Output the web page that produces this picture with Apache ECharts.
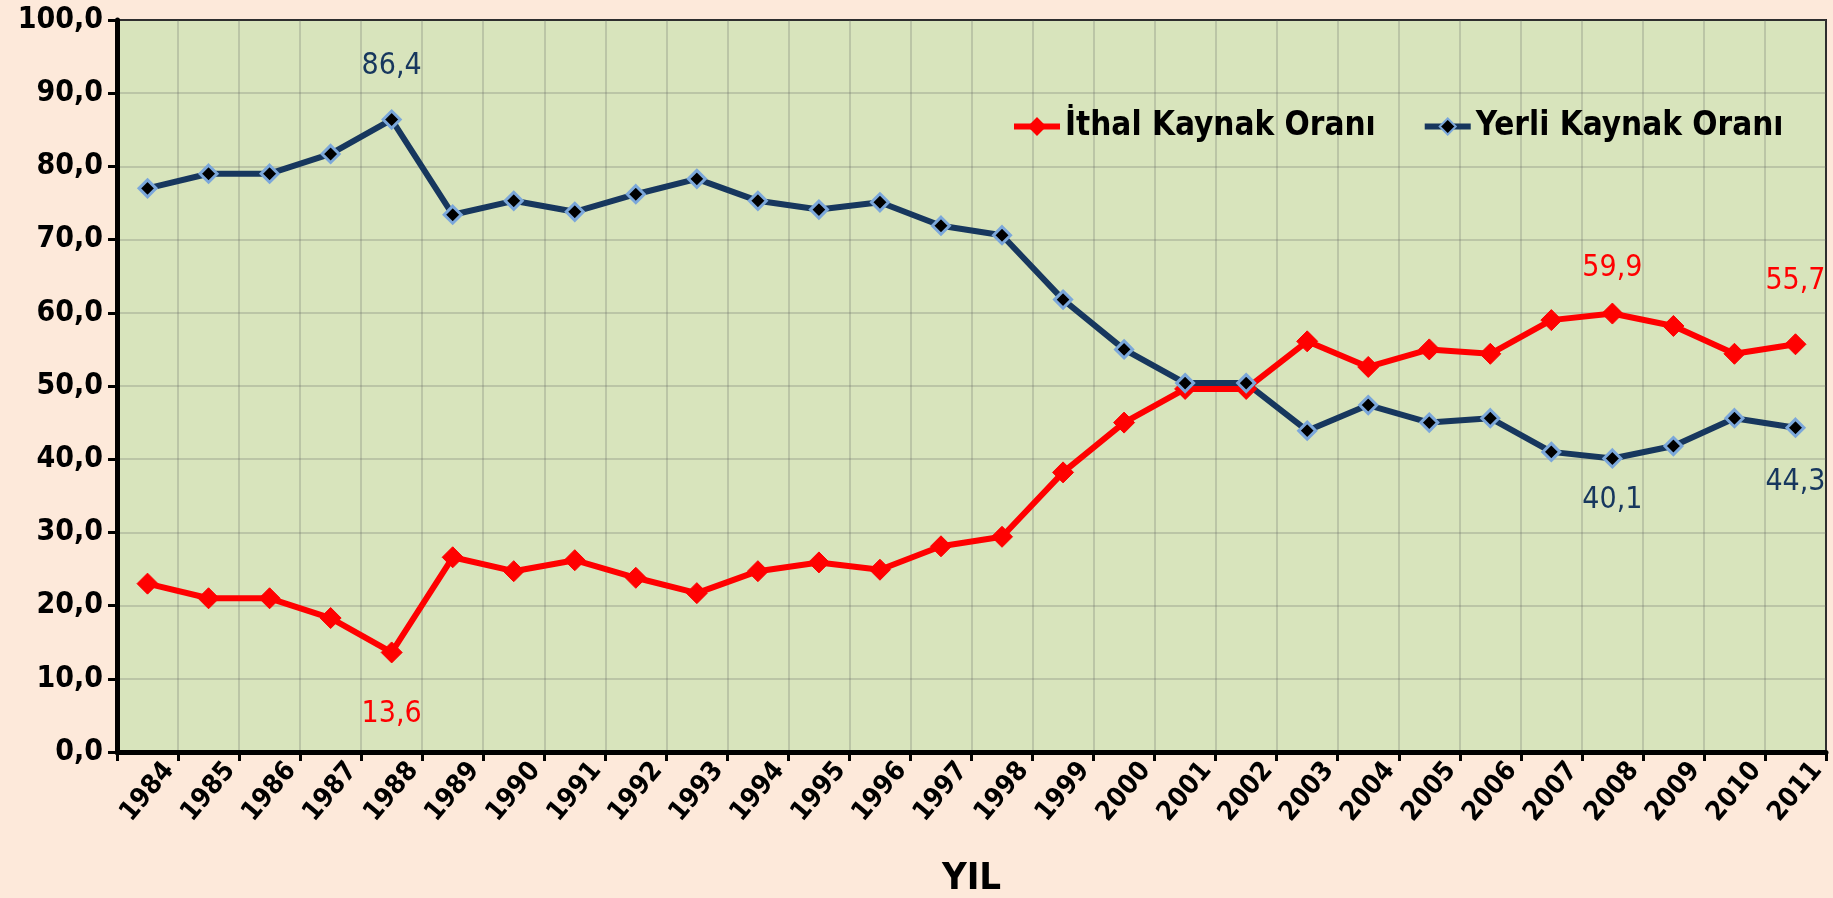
<!DOCTYPE html>
<html>
<head>
<meta charset="utf-8">
<script src="https://cdn.jsdelivr.net/npm/echarts@6/dist/echarts.min.js"></script>
<style>
html,body{margin:0;padding:0;background:#FDE9DA;}
#main{width:1833px;height:898px;}
</style>
</head>
<body>
<div id="main"></div>
<script>
// years on the x axis
var years = ["1984","1985","1986","1987","1988","1989","1990","1991","1992","1993",
    "1994","1995","1996","1997","1998","1999","2000","2001","2002","2003",
    "2004","2005","2006","2007","2008","2009","2010","2011"];

// İthal (imported) share, %
var ithal = [23.0, 21.0, 21.0, 18.3, 13.6, 26.6, 24.7, 26.2, 23.8, 21.7,
    24.7, 25.9, 24.9, 28.1, 29.4, 38.2, 45.0, 49.6, 49.6, 56.1,
    52.6, 55.0, 54.4, 59.0, 59.9, 58.2, 54.4, 55.7];

// Yerli (domestic) share, %
var yerli = [77.0, 79.0, 79.0, 81.7, 86.4, 73.4, 75.3, 73.8, 76.2, 78.3,
    75.3, 74.1, 75.1, 71.9, 70.6, 61.8, 55.0, 50.4, 50.4, 43.9,
    47.4, 45.0, 45.6, 41.0, 40.1, 41.8, 45.6, 44.3];

// which points carry a value label: [position, distance]
var ithalLabels = {4: ["bottom", 36], 24: ["top", 19], 27: ["top", 37]};
var yerliLabels = {4: ["top", 28], 24: ["bottom", 17], 27: ["bottom", 29]};

var yTicks = [0, 10, 20, 30, 40, 50, 60, 70, 80, 90, 100];

var FONT = "'Liberation Sans Narrow', 'DejaVu Sans Condensed', sans-serif";

function fmt(v){ return v.toFixed(1).replace(".", ","); }

function buildData(values, labels, color){
    return values.map(function(v, i){
        var lb = labels[i];
        if(!lb) return v;
        return {
            value: v,
            label: {
                show: true,
                position: lb[0],
                distance: lb[1],
                color: color,
                fontFamily: FONT,
                fontSize: 30,
                formatter: function(p){ return fmt(p.value); }
            }
        };
    });
}

var myChart = echarts.init(document.getElementById("main"));
var option = {
    backgroundColor: "#FDE9DA",
    animation: false,
    grid: {
        left: 117, right: 7, top: 20, bottom: 146,
        outerBoundsMode: "none",
        containLabel: false,
        show: true,
        backgroundColor: "#D8E4BC",
        borderColor: "#222",
        borderWidth: 2
    },
    legend: {
        left: 1006,
        top: 105,
        itemWidth: 46,
        itemHeight: 20,
        itemGap: 46,
        lineStyle: {width: 6},
        textStyle: {fontFamily: FONT, fontSize: 33, fontWeight: "bold", color: "#000"},
        data: ["İthal Kaynak Oranı", "Yerli Kaynak Oranı"]
    },
    xAxis: {
        type: "category",
        data: years,
        boundaryGap: true,
        name: "YIL",
        nameLocation: "middle",
        nameGap: 108,
        nameTextStyle: {fontFamily: FONT, fontSize: 38, fontWeight: "bold", color: "#000"},
        axisLine: {lineStyle: {color: "#000", width: 5}},
        axisTick: {show: true, interval: 0, length: 9, lineStyle: {color: "#000", width: 3}},
        axisLabel: {
            interval: 0,
            rotate: 50,
            margin: 40,
            align: "center",
            verticalAlign: "middle",
            fontFamily: FONT,
            fontSize: 27,
            fontWeight: "bold",
            color: "#000"
        },
        splitLine: {show: true, interval: 0, lineStyle: {color: "rgba(90,90,90,0.3)", width: 1.5}}
    },
    yAxis: {
        type: "value",
        min: yTicks[0],
        max: yTicks[yTicks.length - 1],
        interval: 10,
        axisLine: {show: true, lineStyle: {color: "#000", width: 5}},
        axisTick: {show: true, length: 9, lineStyle: {color: "#000", width: 3}},
        axisLabel: {
            margin: 14,
            fontFamily: FONT,
            fontSize: 30,
            fontWeight: "bold",
            color: "#000",
            formatter: function(v){ return fmt(v); }
        },
        splitLine: {show: true, lineStyle: {color: "rgba(90,90,90,0.3)", width: 1.5}}
    },
    series: [
        {
            name: "İthal Kaynak Oranı",
            type: "line",
            data: buildData(ithal, ithalLabels, "#FF0000"),
            symbol: "diamond",
            symbolSize: 21,
            lineStyle: {color: "#FF0000", width: 6},
            itemStyle: {color: "#FF0000", borderColor: "#FF0000", borderWidth: 1}
        },
        {
            name: "Yerli Kaynak Oranı",
            type: "line",
            data: buildData(yerli, yerliLabels, "#17375E"),
            symbol: "diamond",
            symbolSize: 17,
            lineStyle: {color: "#17375E", width: 6},
            itemStyle: {color: "#000", borderColor: "#7BA7DA", borderWidth: 3}
        }
    ]
};
myChart.setOption(option);
</script>
</body>
</html>
